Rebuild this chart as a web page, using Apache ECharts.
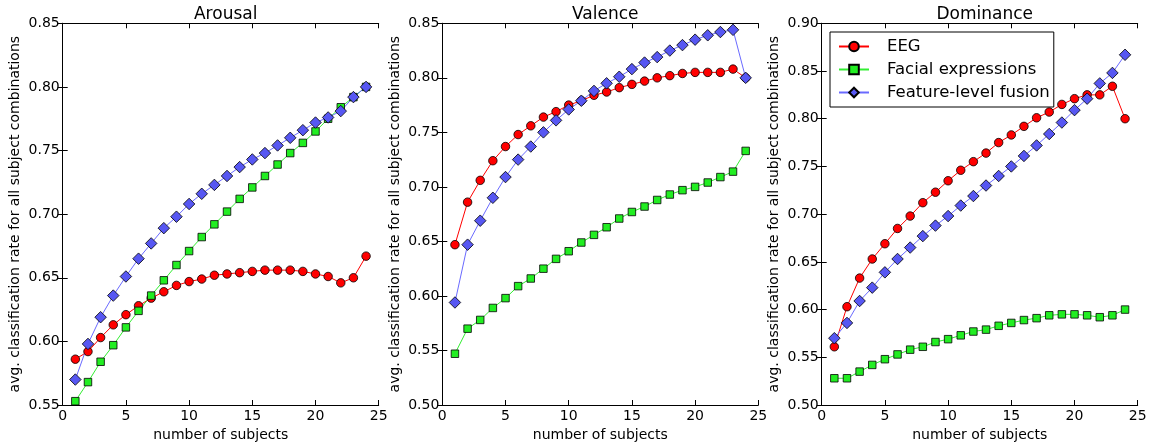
<!DOCTYPE html>
<html>
<head>
<meta charset="utf-8">
<script src="https://cdn.jsdelivr.net/npm/echarts@6/dist/echarts.min.js"></script>
<style>html,body{margin:0;padding:0;background:#fff}#c{width:1153px;height:448px}</style>
</head>
<body>
<div id="c"></div>
<script>
const subjects = [1,2,3,4,5,6,7,8,9,10,11,12,13,14,15,16,17,18,19,20,21,22,23,24];
const panelTitles = ['Arousal','Valence','Dominance'];
const seriesNames = ['EEG','Facial expressions','Feature-level fusion'];
const xTicks = [0,5,10,15,20,25];
const yRanges = [[0.55,0.85],[0.50,0.85],[0.50,0.90]];

const arousalEEG = [0.586,0.592,0.603,0.613,0.621,0.628,0.634,0.639,0.644,0.647,0.649,0.652,0.653,0.654,0.655,0.656,0.656,0.656,0.655,0.653,0.651,0.646,0.650,0.667];
const arousalFacial = [0.553,0.568,0.584,0.597,0.611,0.624,0.636,0.648,0.660,0.671,0.682,0.692,0.702,0.712,0.721,0.730,0.739,0.748,0.756,0.765,0.775,0.784,0.792,0.800];
const arousalFusion = [0.570,0.598,0.619,0.636,0.651,0.665,0.677,0.689,0.698,0.708,0.716,0.723,0.730,0.737,0.743,0.748,0.754,0.760,0.766,0.772,0.776,0.781,0.792,0.800];

const valenceEEG = [0.647,0.686,0.706,0.724,0.737,0.748,0.756,0.764,0.769,0.775,0.779,0.784,0.787,0.791,0.794,0.797,0.800,0.802,0.804,0.805,0.805,0.805,0.808,0.800];
const valenceFacial = [0.547,0.570,0.578,0.589,0.598,0.609,0.616,0.625,0.634,0.641,0.649,0.656,0.663,0.671,0.677,0.682,0.688,0.693,0.697,0.700,0.704,0.709,0.714,0.733];
const valenceFusion = [0.594,0.647,0.669,0.690,0.709,0.725,0.737,0.750,0.761,0.771,0.779,0.788,0.795,0.801,0.808,0.814,0.819,0.825,0.830,0.835,0.839,0.842,0.844,0.800];

const dominanceEEG = [0.561,0.603,0.633,0.653,0.669,0.685,0.698,0.712,0.723,0.735,0.746,0.755,0.764,0.775,0.783,0.792,0.801,0.807,0.815,0.821,0.825,0.825,0.834,0.800];
const dominanceFacial = [0.528,0.528,0.535,0.542,0.548,0.553,0.558,0.561,0.566,0.569,0.573,0.577,0.579,0.583,0.586,0.589,0.591,0.594,0.595,0.595,0.594,0.592,0.594,0.600];
const dominanceFusion = [0.570,0.586,0.609,0.623,0.639,0.653,0.665,0.677,0.688,0.698,0.709,0.719,0.730,0.740,0.750,0.761,0.772,0.784,0.796,0.809,0.821,0.837,0.848,0.867];

const panelData = [
  [arousalEEG, arousalFacial, arousalFusion],
  [valenceEEG, valenceFacial, valenceFusion],
  [dominanceEEG, dominanceFacial, dominanceFusion]
];

const FONT = 'DejaVu Sans';
const styles = [
  {symbol:'circle', size:8.5, fill:'#ff0000', line:'#ff0000'},
  {symbol:'rect', size:7.5, fill:'#22ee22', line:'#33ee33'},
  {symbol:'diamond', size:11.5, fill:'#5757f2', line:'#6a6aff'}
];
const gridLefts = [62.7, 442.3, 821.7];
const gridW = 316;
const gridTop = 23.3;
const gridH = 381.7;

const grids = [], xAxes = [], yAxes = [], series = [], titles = [];
gridLefts.forEach((l, i) => {
  grids.push({left: l, top: gridTop, width: gridW, height: gridH, containLabel: false});
  titles.push({text: panelTitles[i], left: l + gridW/2, top: 1, textAlign: 'center',
    textStyle: {fontFamily: FONT, fontSize: 17, fontWeight: 'normal', color: '#000'}});
  const axLine = {show: true, lineStyle: {color: '#000', width: 1}};
  const tick = {show: true, inside: true, length: 5, lineStyle: {color: '#000', width: 1}};
  xAxes.push({type: 'value', gridIndex: i, min: 0, max: 25, interval: 5, position: 'bottom',
    axisLine: axLine, axisTick: tick, splitLine: {show: false},
    axisLabel: {fontFamily: FONT, fontSize: 14, color: '#000', margin: 4},
    name: 'number of subjects', nameLocation: 'middle', nameGap: 20,
    nameTextStyle: {fontFamily: FONT, fontSize: 14, color: '#000'}});
  xAxes.push({type: 'value', gridIndex: i, min: 0, max: 25, interval: 5, position: 'top',
    axisLine: axLine, axisTick: tick, splitLine: {show: false}, axisLabel: {show: false}});
  const [mn, mx] = yRanges[i];
  yAxes.push({type: 'value', gridIndex: i, min: mn, max: mx, interval: 0.05, position: 'left',
    axisLine: axLine, axisTick: tick, splitLine: {show: false},
    axisLabel: {fontFamily: FONT, fontSize: 14, color: '#000', margin: 3, formatter: v => v.toFixed(2)},
    name: 'avg. classification rate for all subject combinations', nameLocation: 'middle', nameGap: 40,
    nameRotate: 90, nameTextStyle: {fontFamily: FONT, fontSize: 14, color: '#000'}});
  yAxes.push({type: 'value', gridIndex: i, min: mn, max: mx, interval: 0.05, position: 'right',
    axisLine: axLine, axisTick: tick, splitLine: {show: false}, axisLabel: {show: false}});
  panelData[i].forEach((vals, k) => {
    const st = styles[k];
    series.push({
      type: 'line', name: seriesNames[k], xAxisIndex: i*2, yAxisIndex: i*2,
      data: subjects.map((s, j) => [s, vals[j]]),
      symbol: st.symbol, symbolSize: st.size, showSymbol: true,
      lineStyle: {color: st.line, width: 1},
      itemStyle: {color: st.fill, borderColor: '#000', borderWidth: 0.8},
      animation: false, emphasis: {disabled: true}
    });
  });
});

const chart = echarts.init(document.getElementById('c'), null, {renderer: 'canvas'});
chart.setOption({
  backgroundColor: '#fff',
  animation: false,
  title: titles,
  grid: grids,
  xAxis: xAxes,
  yAxis: yAxes,
  legend: {
    data: seriesNames, orient: 'vertical', left: 830, top: 32,
    backgroundColor: '#fff', borderColor: '#000', borderWidth: 1, borderRadius: 0,
    padding: [6, 4, 6, 8], itemGap: 6, itemWidth: 30, itemHeight: 12,
    textStyle: {fontFamily: FONT, fontSize: 16.5, color: '#000', padding: [0, 0, 0, 13]}
  },
  series: series
});
</script>
</body>
</html>
